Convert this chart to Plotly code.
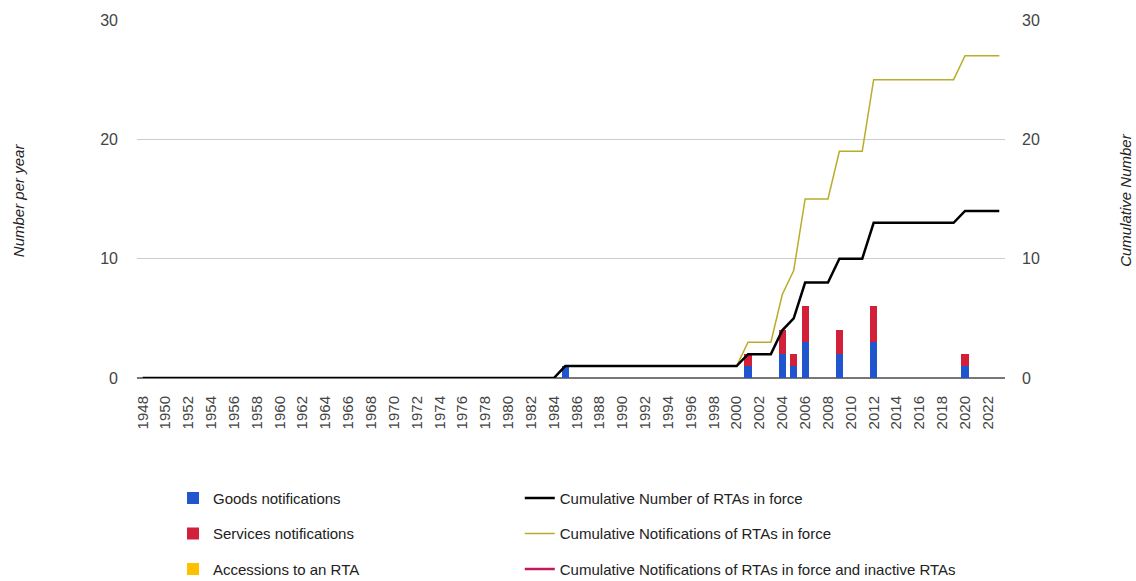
import plotly.graph_objects as go

years = list(range(1948, 2024))

bar_years = [1985, 2001, 2004, 2005, 2006, 2009, 2012, 2020]
goods_vals = [1, 1, 2, 1, 3, 2, 3, 1]
services_vals = [0, 1, 2, 1, 3, 2, 3, 1]
accession_vals = [0, 0, 0, 0, 0, 0, 0, 0]

# Cumulative series: (year from which value holds, value)
cum_rta_steps = [(1948, 0), (1985, 1), (2001, 2), (2004, 4), (2005, 5), (2006, 8), (2009, 10), (2012, 13), (2020, 14)]
cum_notif_steps = [(1948, 0), (1985, 1), (2001, 3), (2004, 7), (2005, 9), (2006, 15), (2009, 19), (2012, 25), (2020, 27)]


def expand(steps):
    out = []
    for y in years:
        v = 0
        for sy, sv in steps:
            if y >= sy:
                v = sv
        out.append(v)
    return out


cum_rta = expand(cum_rta_steps)
cum_notif = expand(cum_notif_steps)
cum_all = [None] * len(years)

FONT = "Liberation Sans, Arial, sans-serif"

fig = go.Figure()
fig.add_trace(go.Bar(x=bar_years, y=goods_vals, name="Goods notifications",
                     marker=dict(color="#2155CD", line=dict(width=0)),
                     legend="legend", legendgroup="g1", yaxis="y"))
fig.add_trace(go.Bar(x=bar_years, y=services_vals, name="Services notifications",
                     marker=dict(color="#D2203A", line=dict(width=0)),
                     legend="legend", legendgroup="g2", yaxis="y"))
fig.add_trace(go.Bar(x=bar_years, y=accession_vals, name="Accessions to an RTA",
                     marker=dict(color="#FFC000", line=dict(width=0)),
                     legend="legend", legendgroup="g3", yaxis="y"))
fig.add_trace(go.Scatter(x=years, y=cum_notif, name="Cumulative Notifications of RTAs in force",
                         mode="lines", line=dict(color="#B8AC2A", width=1.5),
                         legend="legend2", legendgroup="g5", legendrank=2, yaxis="y2"))
fig.add_trace(go.Scatter(x=years, y=cum_rta, name="Cumulative Number of RTAs in force",
                         mode="lines", line=dict(color="#000000", width=2.5),
                         legend="legend2", legendgroup="g4", legendrank=1, yaxis="y2"))
fig.add_trace(go.Scatter(x=years, y=cum_all, name="Cumulative Notifications of RTAs in force and inactive RTAs",
                         mode="lines", line=dict(color="#C2185B", width=2.5),
                         legend="legend2", legendgroup="g6", legendrank=3, yaxis="y2"))

legend_common = dict(font=dict(family=FONT, size=15, color="#222"), tracegroupgap=13,
                     bgcolor="rgba(0,0,0,0)", yanchor="top", xanchor="left",
                     traceorder="grouped", orientation="v")

fig.update_layout(
    width=1136, height=581,
    margin=dict(l=137, r=131, t=20, b=203, autoexpand=False),
    paper_bgcolor="white", plot_bgcolor="white",
    barmode="stack", bargap=0.38,
    font=dict(family=FONT, size=15, color="#444"),
    xaxis=dict(range=[1947.5, 2023.5], tickmode="linear", tick0=1948, dtick=2,
               tickangle=-90, showgrid=False, zeroline=False, showline=False,
               ticks="", ticklabelstandoff=14, automargin=False,
               tickfont=dict(family=FONT, size=15, color="#444")),
    yaxis=dict(range=[0, 30], tickvals=[0, 10, 20, 30], showgrid=True, gridcolor="#CCCCCC",
               gridwidth=1, zeroline=True, zerolinecolor="#777777", zerolinewidth=1.5,
               ticks="", ticklabelstandoff=18, showline=False, automargin=False,
               tickfont=dict(family=FONT, size=16, color="#444")),
    yaxis2=dict(range=[0, 30], tickvals=[0, 10, 20, 30], overlaying="y", side="right",
                showgrid=False, zeroline=False, ticks="", ticklabelstandoff=16, automargin=False,
                tickfont=dict(family=FONT, size=16, color="#444")),
    legend=dict(x=0.0415, y=-0.29, **legend_common),
    legend2=dict(x=0.441, y=-0.29, **legend_common),
    annotations=[
        dict(text="<i>Number per year</i>", xref="paper", yref="paper", x=-0.137, y=0.497,
             xanchor="center", yanchor="middle",
             textangle=-90, showarrow=False, font=dict(family=FONT, size=15, color="#222")),
        dict(text="<i>Cumulative Number</i>", xref="paper", yref="paper", x=1.138, y=0.497,
             xanchor="center", yanchor="middle",
             textangle=-90, showarrow=False, font=dict(family=FONT, size=15, color="#222")),
    ],
)

fig.write_html("out.html", config={"displayModeBar": False},
               post_script="document.body.style.margin='0';")
